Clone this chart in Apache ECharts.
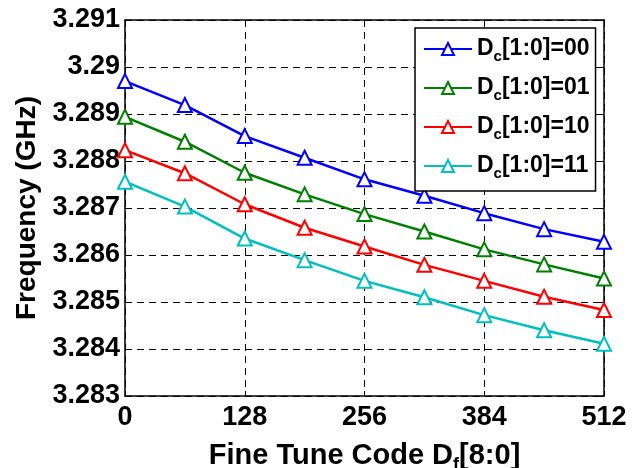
<!DOCTYPE html>
<html>
<head>
<meta charset="utf-8">
<script src="https://cdn.jsdelivr.net/npm/echarts@6/dist/echarts.min.js"></script>
<style>html,body{margin:0;padding:0;background:#fff}#c{width:633px;height:468px}</style>
</head>
<body>
<div id="c"></div>
<script>
const codes = [0, 64, 128, 192, 256, 320, 384, 448, 512];
const dc00 = [3.28970, 3.28919, 3.28853, 3.28807, 3.28761, 3.28726, 3.28689, 3.28655, 3.28628];
const dc01 = [3.28894, 3.28841, 3.28775, 3.28729, 3.28687, 3.28650, 3.28612, 3.28580, 3.28550];
const dc10 = [3.28823, 3.28774, 3.28708, 3.28658, 3.28618, 3.28579, 3.28545, 3.28511, 3.28483];
const dc11 = [3.28756, 3.28703, 3.28635, 3.28589, 3.28545, 3.28510, 3.28472, 3.28440, 3.28411];
const seriesNames = ['00', '01', '10', '11'];
const seriesColors = ['#0000ff', '#008000', '#ff0000', '#00bfbf'];
const yTicks = [3.283, 3.284, 3.285, 3.286, 3.287, 3.288, 3.289, 3.290, 3.291];
const xTicks = [0, 128, 256, 384, 512];

const FONT = 'Liberation Sans, Arial, sans-serif';
const allData = [dc00, dc01, dc10, dc11];
const chart = echarts.init(document.getElementById('c'), null, {renderer: 'canvas'});

const series = allData.map((arr, i) => ({
  name: 'D' + seriesNames[i],
  type: 'line',
  data: codes.map((x, j) => [x, arr[j]]),
  symbol: 'emptyTriangle',
  symbolSize: 14,
  color: seriesColors[i],
  lineStyle: {width: 2.5, color: seriesColors[i]},
  itemStyle: {color: seriesColors[i], borderWidth: 2},
  xAxisIndex: 0, yAxisIndex: 0,
  animation: false
}));

const axisLine = {show: true, onZero: false, lineStyle: {color: '#000', width: 1.5}};
const grid = {lineStyle: {color: '#000', type: [7, 5], width: 1}};

chart.setOption({
  backgroundColor: '#fff',
  animation: false,
  grid: {left: 125, right: 29, top: 20, bottom: 72, containLabel: false, outerBoundsMode: 'none'},
  legend: {
    orient: 'vertical',
    left: 415, top: 28,
    width: 180,
    backgroundColor: '#fff',
    borderColor: '#000', borderWidth: 1.5, borderRadius: 0,
    padding: [6, 6, 10, 8],
    itemGap: 9,
    itemWidth: 48, itemHeight: 15,
    data: series.map(s => s.name),
    formatter: name => '{b|D}{s|c}{b|[1:0]=' + name.slice(1) + '}',
    textStyle: {
      rich: {
        b: {fontFamily: FONT, fontWeight: 'bold', fontSize: 23, color: '#000', lineHeight: 30},
        s: {fontFamily: FONT, fontWeight: 'bold', fontSize: 15, color: '#000', padding: [15, 0, 0, 0], lineHeight: 30}
      }
    }
  },
  xAxis: [{
    type: 'value', min: 0, max: 512, interval: 128,
    axisLine: axisLine,
    axisTick: {show: true, inside: true, length: 5, lineStyle: {color: '#000'}},
    axisLabel: {fontFamily: FONT, fontWeight: 'bold', fontSize: 27, color: '#000', margin: 8,
      formatter: v => xTicks.includes(v) ? String(v) : ''},
    splitLine: Object.assign({show: true}, grid),
    name: 'Fine Tune Code {b|D}{s|f}{b|[8:0]}',
    nameLocation: 'middle', nameGap: 42,
    nameTextStyle: {fontFamily: FONT, fontWeight: 'bold', fontSize: 29, color: '#000',
      rich: {
        b: {fontFamily: FONT, fontWeight: 'bold', fontSize: 29, color: '#000'},
        s: {fontFamily: FONT, fontWeight: 'bold', fontSize: 18, color: '#000', padding: [18, 0, 0, 0]}
      }}
  }, {
    type: 'value', min: 0, max: 512, interval: 128, position: 'top',
    axisLine: axisLine,
    axisTick: {show: true, inside: true, length: 5, lineStyle: {color: '#000'}},
    axisLabel: {show: false}, splitLine: {show: false}
  }],
  yAxis: [{
    type: 'value', min: 3.283, max: 3.291, interval: 0.001,
    axisLine: axisLine,
    axisTick: {show: true, inside: true, length: 5, lineStyle: {color: '#000'}},
    axisLabel: {fontFamily: FONT, fontWeight: 'bold', fontSize: 27, color: '#000', margin: 5,
      formatter: v => String(parseFloat(v.toFixed(3)))},
    splitLine: Object.assign({show: true}, grid),
    name: 'Frequency (GHz)',
    nameLocation: 'middle', nameGap: 82,
    nameTextStyle: {fontFamily: FONT, fontWeight: 'bold', fontSize: 28, color: '#000'}
  }, {
    type: 'value', min: 3.283, max: 3.291, interval: 0.001, position: 'right',
    axisLine: axisLine,
    axisTick: {show: true, inside: true, length: 5, lineStyle: {color: '#000'}},
    axisLabel: {show: false}, splitLine: {show: false}
  }],
  series: series
});
</script>
</body>
</html>
